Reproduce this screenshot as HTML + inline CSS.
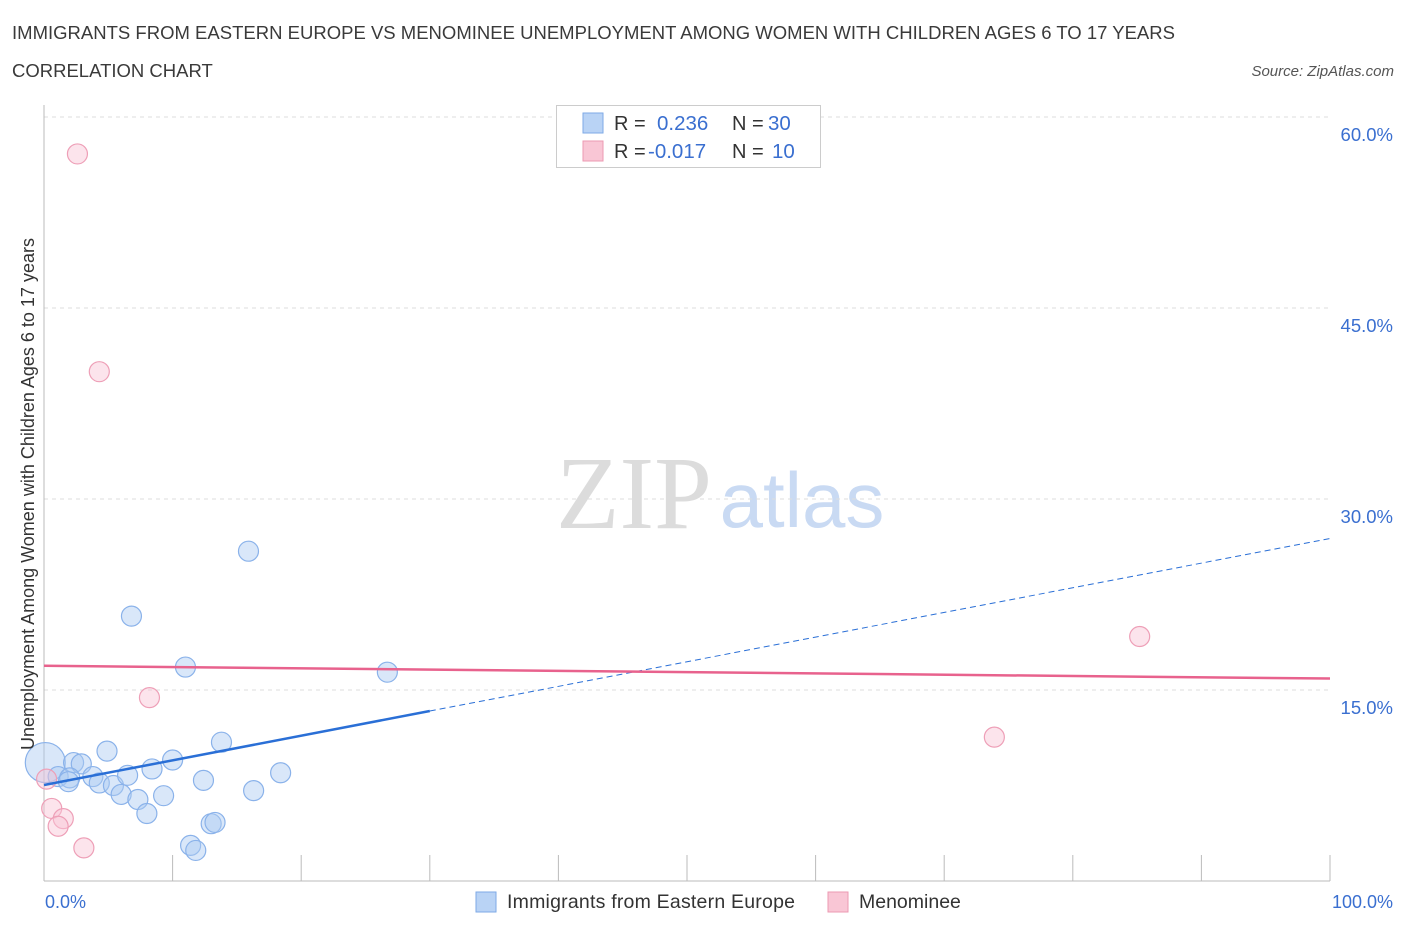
<!DOCTYPE html>
<html><head><meta charset="utf-8"><style>
body{margin:0;background:#fff;font-family:"Liberation Sans",sans-serif;}
svg text{font-family:"Liberation Sans",sans-serif;}
</style></head><body>
<svg id="chart" width="1406" height="930">
<text x="12" y="39" font-size="18.5" fill="#3a3a3a" textLength="1163">IMMIGRANTS FROM EASTERN EUROPE VS MENOMINEE UNEMPLOYMENT AMONG WOMEN WITH CHILDREN AGES 6 TO 17 YEARS</text>
<text x="12" y="77" font-size="18.5" fill="#3a3a3a">CORRELATION CHART</text>
<text x="1394" y="76" font-size="15" fill="#555" font-style="italic" text-anchor="end">Source: ZipAtlas.com</text>
<text x="634" y="528" font-size="104" fill="#dcdcdc" text-anchor="middle" style="font-family:'Liberation Serif',serif">ZIP</text>
<text x="802" y="527" font-size="78" fill="#c9daf3" text-anchor="middle">atlas</text>
<g id="grid"></g>
<g id="axes"></g>
<g id="marks"></g>
<text transform="translate(34,494) rotate(-90)" font-size="18" fill="#333" text-anchor="middle">Unemployment Among Women with Children Ages 6 to 17 years</text>
<text x="45" y="908" font-size="18" fill="#3a6fd0">0.0%</text>
<text x="1393" y="908" font-size="18" fill="#3a6fd0" text-anchor="end">100.0%</text>
<g>
<rect x="476" y="892" width="20" height="20" fill="#b9d3f5" stroke="#7ea9e6"/>
<text x="507" y="908" font-size="19.5" fill="#333" textLength="288">Immigrants from Eastern Europe</text>
<rect x="828" y="892" width="20" height="20" fill="#f9c6d5" stroke="#ec99b2"/>
<text x="859" y="908" font-size="19.5" fill="#333">Menominee</text>
</g>
<g>
<rect x="556.5" y="105.5" width="264" height="62" fill="#fff" stroke="#ccc"/>
<rect x="583" y="113" width="20" height="20" fill="#b9d3f5" stroke="#7ea9e6"/>
<text x="614" y="130" font-size="20" fill="#333">R =</text>
<text x="657" y="130" font-size="20.5" fill="#3a6fd0">0.236</text>
<text x="732" y="130" font-size="20" fill="#333">N =</text>
<text x="768" y="130" font-size="20.5" fill="#3a6fd0">30</text>
<rect x="583" y="141" width="20" height="20" fill="#f9c6d5" stroke="#ec99b2"/>
<text x="614" y="158" font-size="20" fill="#333">R =</text>
<text x="648" y="158" font-size="20.5" fill="#3a6fd0">-0.017</text>
<text x="732" y="158" font-size="20" fill="#333">N =</text>
<text x="772" y="158" font-size="20.5" fill="#3a6fd0">10</text>
</g>
</svg>
<script>
const yTicks=[15,30,45,60];
const yTickLabels=["15.0%","30.0%","45.0%","60.0%"];
const blueX=[0.1,4.9,2.3,2.9,1.1,2.0,1.9,3.8,4.3,5.4,6.5,6.0,7.3,8.0,8.4,9.3,10.0,11.0,11.4,11.8,12.4,13.0,13.3,13.8,16.3,18.4,15.9,6.8,26.7];
const blueY=[9.3,10.2,9.3,9.2,8.2,8.1,7.8,8.2,7.7,7.5,8.3,6.8,6.4,5.3,8.8,6.7,9.5,16.8,2.8,2.4,7.9,4.5,4.6,10.9,7.1,8.5,25.9,20.8,16.4];
const blueR=[20,10,10,10,10,10,10,10,10,10,10,10,10,10,10,10,10,10,10,10,10,10,10,10,10,10,10,10,10];
const pinkX=[2.6,4.3,8.2,0.6,1.5,1.1,3.1,0.2,73.9,85.2];
const pinkY=[57.1,40.0,14.4,5.7,4.9,4.3,2.6,8.0,11.3,19.2];
const blueTrend=[7.54,26.9];
const pinkTrend=[16.9,15.9];
const blueSolidEnd=30;
const NS="http://www.w3.org/2000/svg";
const X0=44,X1=1330,Y0=881,Y1=117;
const sx=v=>X0+(v/100)*(X1-X0);
const sy=v=>Y0-(v/60)*(Y0-Y1);
function mk(t,a,p){const e=document.createElementNS(NS,t);for(const k in a)e.setAttribute(k,a[k]);p.appendChild(e);return e;}
const grid=document.getElementById('grid'),axes=document.getElementById('axes'),marks=document.getElementById('marks');
yTicks.forEach((t,i)=>{
 const l=mk('line',{x1:X0,x2:X1,y1:sy(t),y2:sy(t),stroke:'#ddd','stroke-dasharray':'4,4'},grid);
 
 
 const tx=mk('text',{x:1393,y:sy(t)+24,'font-size':18.5,fill:'#3a6fd0','text-anchor':'end'},axes);
 tx.textContent=yTickLabels[i];
 
 
});
const ya=mk('line',{x1:X0,x2:X0,y1:105,y2:Y0,stroke:'#bbb'},axes);


const xa=mk('line',{x1:X0,x2:X1,y1:Y0,y2:Y0,stroke:'#bbb'},axes);


for(let i=1;i<=10;i++){
 const tk=mk('line',{x1:sx(i*10),x2:sx(i*10),y1:Y0-26,y2:Y0,stroke:'#bbb'},axes);
 
 
}
blueX.forEach((x,i)=>{
 const c=mk('circle',{cx:sx(x),cy:sy(blueY[i]),r:blueR[i],fill:'rgba(170,202,242,0.45)',stroke:'#8ab2ea','stroke-width':1.2},marks);
 
 
});
pinkX.forEach((x,i)=>{
 const c=mk('circle',{cx:sx(x),cy:sy(pinkY[i]),r:10,fill:'rgba(248,195,212,0.45)',stroke:'#ee9fb7','stroke-width':1.2},marks);
 
 
});
const bAt=v=>blueTrend[0]+(blueTrend[1]-blueTrend[0])*v/100;
const bs=mk('line',{x1:sx(0),y1:sy(bAt(0)),x2:sx(blueSolidEnd),y2:sy(bAt(blueSolidEnd)),stroke:'#2a6fd6','stroke-width':2.5},marks);


const bd=mk('line',{x1:sx(blueSolidEnd),y1:sy(bAt(blueSolidEnd)),x2:sx(100),y2:sy(bAt(100)),stroke:'#2a6fd6','stroke-width':1,'stroke-dasharray':'6,4'},marks);


const pt=mk('line',{x1:sx(0),y1:sy(pinkTrend[0]),x2:sx(100),y2:sy(pinkTrend[1]),stroke:'#e8628d','stroke-width':2.5},marks);


</script>
</body></html>
